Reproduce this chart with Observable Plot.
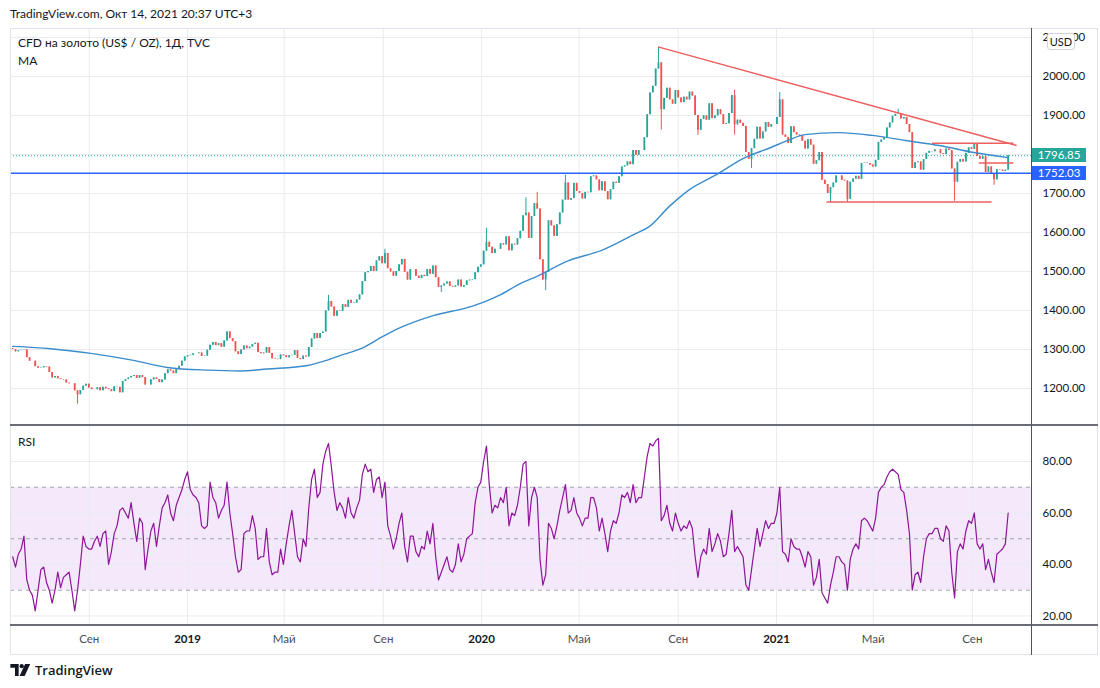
<!DOCTYPE html>
<html><head><meta charset="utf-8">
<script src="https://cdn.jsdelivr.net/npm/d3@7"></script>
<script src="https://cdn.jsdelivr.net/npm/@observablehq/plot@0.6"></script>
<style>
body{margin:0;background:#fff;font-family:Lato,"Open Sans",sans-serif;color:#131722}
#root{position:relative;width:1100px;height:688px;overflow:hidden;background:#fff}
.abs{position:absolute;white-space:nowrap}
.box{position:absolute;color:#fff;font-size:11.5px;line-height:14px;height:14px;text-align:center}
</style></head><body><div id="root"></div>
<script>
// ---------- DATA ----------
const startMonday = "2018-05-28";          // first week shown; two candles per week
const firstOpen = 1302;
const closes = [
  1300,1294, 1297,1298, 1299,1279, 1270,1270, 1256,1252,
  1253,1256, 1255,1241, 1227,1231, 1225,1223, 1222,1214,
  1212,1212, 1194,1184, 1195,1206, 1211,1201,
  1197,1197, 1202,1194, 1203,1199, 1197,1192,
  1204,1203, 1189,1218, 1223,1227, 1231,1233, 1226,1233,
  1228,1209, 1209,1222, 1227,1223, 1215,1222,
  1238,1248, 1245,1238, 1250,1257, 1270,1281, 1284,1285,
  1289,1289, 1291,1282, 1283,1298, 1311,1318,
  1310,1315, 1306,1322, 1345,1328, 1320,1294,
  1287,1299, 1309,1302, 1306,1313, 1316,1292,
  1289,1291, 1305,1290, 1276,1275, 1274,1286, 1284,1279,
  1284,1285, 1297,1277, 1274,1283, 1281,1305,
  1327,1341, 1328,1341, 1345,1399, 1423,1409,
  1385,1399, 1398,1415, 1408,1426, 1418,1419, 1427,1440,
  1474,1497, 1500,1513, 1500,1527, 1538,1520,
  1546,1507, 1499,1488, 1500,1517, 1531,1498, 1478,1505,
  1505,1488, 1482,1490, 1487,1505, 1493,1514,
  1484,1459, 1463,1468, 1473,1462, 1460,1463,
  1478,1460, 1464,1476, 1478,1479, 1497,1511, 1517,1552,
  1575,1562, 1546,1557, 1557,1571, 1568,1589,
  1553,1570, 1568,1584, 1603,1643, 1650,1585,
  1641,1674, 1660,1530, 1478,1498, 1630,1617, 1590,1620,
  1650,1683, 1727,1683, 1687,1726, 1705,1700,
  1686,1703, 1702,1743, 1745,1735, 1707,1730,
  1705,1684, 1710,1729, 1726,1743, 1768,1771, 1781,1774,
  1810,1798, 1810,1810, 1843,1902, 1958,1975,
  2019,2035, 1915,1944, 1970,1940, 1929,1964, 1945,1933,
  1947,1940, 1960,1950, 1900,1862, 1890,1899,
  1888,1930, 1892,1899, 1915,1902, 1877,1879,
  1905,1951, 1876,1888, 1880,1872, 1805,1788, 1815,1839,
  1870,1840, 1858,1882, 1870,1877, 1877,1895,
  1940,1850, 1844,1828, 1871,1856, 1850,1848,
  1834,1814, 1838,1824, 1775,1784, 1805,1734,
  1723,1700, 1715,1727, 1745,1745, 1734,1732, 1685,1729,
  1737,1744, 1736,1777, 1778,1777, 1773,1768,
  1785,1831, 1837,1843, 1868,1881, 1898,1903, 1903,1891,
  1895,1877, 1856,1764, 1779,1781, 1760,1787,
  1803,1808, 1807,1812, 1812,1802, 1800,1814,
  1810,1763, 1729,1780, 1787,1781, 1803,1817, 1813,1827,
  1795,1788, 1794,1754, 1768,1750, 1735,1761,
  1760,1757, 1760,1797
];
const rsiValues = [
  43,39, 44,46, 51,34, 30,28, 22,30,
  38,39, 33,30, 25,30, 37,31, 35,36,
  37,30, 22,30, 40,51, 47,46,
  46,49, 51,47, 52,53, 40,45,
  52,55, 61,62, 60,58, 64,56, 49,58,
  56,38, 46,53, 56,47, 55,62,
  64,67, 60,57, 63,66, 69,73, 76,69,
  67,66, 64,55, 54,55, 72,66,
  64,58, 61,63, 72,60, 52,43,
  37,38, 52,53, 53,59, 54,42,
  43,43, 54,41, 36,37, 37,46, 40,48,
  55,61, 52,43, 41,50, 47,62,
  73,77, 66,68, 79,84, 87,78,
  68,61, 64,62, 58,66, 60,58, 62,65,
  75,79, 76,77, 68,73, 74,66,
  72,55, 51,46, 50,56, 60,47, 41,51,
  51,45, 43,47, 46,53, 48,56,
  43,34, 37,40, 43,38, 37,40,
  48,41, 44,50, 51,52, 64,70, 72,80,
  86,71, 60,63, 62,66, 64,70,
  55,60, 59,63, 70,79, 80,55,
  66,70, 66,42, 32,36, 56,54, 50,55,
  61,66, 71,60, 61,66, 60,58,
  55,58, 58,66, 66,62, 53,58,
  52,45, 53,57, 56,60, 67,66, 68,64,
  71,64, 66,66, 74,82, 87,86,
  88,89, 57,59, 63,56, 53,60, 56,53,
  55,54, 57,54, 43,35, 43,46,
  44,54, 45,48, 52,49, 43,44,
  52,61, 45,47, 45,43, 32,30, 38,46,
  54,47, 52,57, 54,56, 56,60,
  70,45, 44,41, 50,47, 46,46,
  43,39, 45,43, 32,35, 42,29,
  27,25, 32,37, 43,43, 41,40, 30,42,
  46,48, 46,57, 58,57, 55,53,
  58,68, 70,71, 74,76, 77,76, 75,69,
  68,61, 52,30, 36,37, 33,43,
  50,52, 52,54, 54,50, 49,55,
  53,37, 27,45, 48,46, 53,57, 56,60,
  48,46, 48,38, 42,37, 33,44,
  45,46, 48,60
];
// notable wick extremes
const wickDates  = ["2018-08-16","2019-02-20","2019-06-25","2019-09-04","2019-11-12","2020-01-08","2020-02-24","2020-03-09","2020-03-19","2020-04-14","2020-08-06","2020-08-11","2020-09-24","2020-11-09","2020-11-09","2020-11-30","2021-01-06","2021-03-08","2021-03-31","2021-06-01","2021-08-09","2021-09-29"];
const wickPrices = [1160,1346,1439,1557,1446,1611,1689,1703,1451,1747,2075,1863,1849,1965,1850,1764,1959,1676,1677,1916,1680,1721];
// moving average
const maDates  = ["2018-05-29","2018-07-15","2018-09-03","2018-10-26","2018-12-07","2019-01-26","2019-03-07","2019-04-10","2019-05-30","2019-06-19","2019-07-10","2019-08-04","2019-09-01","2019-09-22","2019-11-02","2019-12-15","2020-01-03","2020-01-24","2020-02-18","2020-03-07","2020-04-18","2020-05-29","2020-07-10","2020-07-27","2020-08-21","2020-09-15","2020-10-19","2020-11-21","2020-12-25","2021-01-15","2021-02-05","2021-03-19","2021-04-30","2021-06-10","2021-07-22","2021-09-03","2021-10-15"];
const maValues = [1308,1302,1290,1272,1254,1247,1245,1250,1259,1270,1285,1302,1334,1356,1387,1408,1421,1440,1469,1485,1528,1554,1597,1615,1667,1710,1749,1790,1818,1836,1851,1856,1849,1836,1823,1805,1792];
// drawn trend lines
const trendFromDates  = ["2020-08-07","2021-03-04","2021-07-13","2021-09-09"];
const trendFromPrices = [2076,1678,1829,1778];
const trendToDates    = ["2021-10-26","2021-09-25","2021-10-22","2021-10-22"];
const trendToPrices   = [1823,1678,1829,1778];
const lastPrice = 1796.85;
const levelPrice = 1752.03;
const priceTicks = [1200,1300,1400,1500,1600,1700,1800,1900,2000,2100];
const priceTickLabels = [1200,1300,1400,1500,1600,1700,1900,2000,2100]; // 1800.00 sits under the price labels
const rsiTicks = [20,40,60,80];
const rsiLevels = [30,50,70];
const rsiBand = [30,70];
const timeTicks = ["2018-09-01","2019-01-01","2019-05-01","2019-09-01","2020-01-01","2020-05-01","2020-09-01","2021-01-01","2021-05-01","2021-09-01"];
const timeTickLabels = ["Сен","2019","Май","Сен","2020","Май","Сен","2021","Май","Сен"];
const xDomain = [new Date("2018-05-26T07:00Z"), new Date("2021-11-14T17:00Z")];

// ---------- BUILD ----------
const weeks = d3.utcMonday.range(new Date(startMonday), new Date("2021-10-16"));
const dates = weeks.flatMap(w => [d3.utcHour.offset(w, 24), d3.utcHour.offset(w, 108)]);
if (dates.length !== closes.length || rsiValues.length !== closes.length)
  throw new Error(`length mismatch ${dates.length} ${closes.length} ${rsiValues.length}`);
const candles = closes.map((c, i) => {
  const o = i ? closes[i - 1] : firstOpen;
  return {date: dates[i], open: o, close: c, hi: Math.max(o, c), lo: Math.min(o, c)};
});
wickDates.forEach((ds, j) => {
  const t = new Date(ds);
  const k = d3.leastIndex(dates, d => Math.abs(d - t));
  candles[k].hi = Math.max(candles[k].hi, wickPrices[j]);
  candles[k].lo = Math.min(candles[k].lo, wickPrices[j]);
});
const up = candles.filter(d => d.close >= d.open);
const down = candles.filter(d => d.close < d.open);
const ma = maDates.map((d, i) => ({date: new Date(d), value: maValues[i]}));
const rsi = dates.map((d, i) => ({date: d, value: rsiValues[i]}));
const trends = trendFromDates.map((d, i) => ({x1: new Date(d), y1: trendFromPrices[i], x2: new Date(trendToDates[i]), y2: trendToPrices[i]}));
const tickDates = timeTicks.map(d => new Date(d));
const labelOf = new Map(tickDates.map((d, i) => [+d, timeTickLabels[i]]));
const yearTicks = tickDates.filter(d => d.getUTCMonth() === 0);
const monthTicks = tickDates.filter(d => d.getUTCMonth() !== 0);

const UP = "#26a69a", DOWN = "#ef5350", GRID = "#e9ebf0";
const style = {fontFamily: "Lato, 'Open Sans', sans-serif", fontSize: "11.5px", color: "#131722", background: "transparent", overflow: "visible"};

const pricePlot = Plot.plot({
  width: 1100, height: 397, marginLeft: 10, marginRight: 68, marginTop: 0, marginBottom: 0,
  style,
  x: {type: "utc", domain: xDomain, axis: null},
  y: {domain: [1105.1, 2123.1], axis: null},
  marks: [
    Plot.gridX(tickDates, {stroke: GRID, strokeOpacity: 1}),
    Plot.gridY(priceTicks, {stroke: GRID, strokeOpacity: 1}),
    Plot.axisY(priceTickLabels, {anchor: "right", label: null, tickSize: 0, tickPadding: 10, textAnchor: "start", tickFormat: d3.format(".2f"), fill: "#131722"}),
    Plot.ruleY([lastPrice], {stroke: UP, strokeDasharray: "1,2", strokeWidth: 1}),
    Plot.ruleX(up, {x: "date", y1: "lo", y2: "hi", stroke: UP, strokeWidth: 1}),
    Plot.ruleX(down, {x: "date", y1: "lo", y2: "hi", stroke: DOWN, strokeWidth: 1}),
    Plot.ruleX(up, {x: "date", y1: "open", y2: "close", stroke: UP, strokeWidth: 1.8}),
    Plot.ruleX(down, {x: "date", y1: "open", y2: "close", stroke: DOWN, strokeWidth: 1.8}),
    Plot.ruleY([levelPrice], {stroke: "#2962ff", strokeWidth: 1.5}),
    Plot.line(ma, {x: "date", y: "value", stroke: "#3a8ccc", strokeWidth: 1.4, curve: "monotone-x"}),
    Plot.link(trends, {x1: "x1", y1: "y1", x2: "x2", y2: "y2", stroke: "#ec5f5f", strokeWidth: 1.5})
  ]
});

const rsiPlot = Plot.plot({
  width: 1100, height: 229, marginLeft: 10, marginRight: 68, marginTop: 0, marginBottom: 30,
  style,
  x: {type: "utc", domain: xDomain, axis: null},
  y: {domain: [16.3, 93.6], axis: null},
  marks: [
    Plot.rect([rsiBand], {x1: () => xDomain[0], x2: () => xDomain[1], y1: d => d[0], y2: d => d[1], fill: "#f4e8fb"}),
    Plot.gridX(tickDates, {stroke: GRID, strokeOpacity: 1}),
    Plot.gridY(rsiTicks, {stroke: GRID, strokeOpacity: 1}),
    Plot.ruleY(rsiLevels, {stroke: "#a3a6af", strokeDasharray: "4,4", strokeWidth: 1}),
    Plot.line(rsi, {x: "date", y: "value", stroke: "#8e1599", strokeWidth: 1.2}),
    Plot.axisY(rsiTicks, {anchor: "right", label: null, tickSize: 0, tickPadding: 10, textAnchor: "start", tickFormat: d3.format(".2f"), fill: "#131722"}),
    Plot.axisX(monthTicks, {anchor: "bottom", label: null, tickSize: 0, tickPadding: 9, tickFormat: d => labelOf.get(+d), fill: "#4a4e59"}),
    Plot.axisX(yearTicks, {anchor: "bottom", label: null, tickSize: 0, tickPadding: 9, tickFormat: d => labelOf.get(+d), fill: "#131722", fontWeight: "bold"})
  ]
});

const root = document.getElementById("root");
function place(el, left, top) { el.style.position = "absolute"; el.style.left = left + "px"; el.style.top = top + "px"; root.appendChild(el); return el; }
function div(html, cls, css) { const e = document.createElement("div"); e.className = cls || "abs"; e.innerHTML = html; Object.assign(e.style, css || {}); root.appendChild(e); return e; }

const PRICE_TOP = 28, RSI_TOP = 426;
place(pricePlot, 0, PRICE_TOP);
place(rsiPlot, 0, RSI_TOP);

// frame & separators
div("", "abs", {left: "10px", top: "28px", width: "1088px", height: "627px", border: "1px solid #e0e3eb", boxSizing: "border-box"});
div("", "abs", {left: "10px", top: "424px", width: "1088px", height: "2px", background: "#6a6d78"});
div("", "abs", {left: "10px", top: "624px", width: "1088px", height: "2px", background: "#6a6d78"});
div("", "abs", {left: "1031px", top: "28px", width: "1px", height: "627px", background: "#50535e"});

// texts
div("TradingView.com, Окт 14, 2021 20:37 UTC+3", "abs", {left: "10px", top: "6px", fontSize: "12px", lineHeight: "16px", color: "#131722"});
div("CFD на золото (US$ / OZ), 1Д, TVC", "abs", {left: "18px", top: "35px", fontSize: "12px", lineHeight: "16px", color: "#131722"});
div("MA", "abs", {left: "18px", top: "53px", fontSize: "12px", lineHeight: "16px", color: "#131722"});
div("RSI", "abs", {left: "18px", top: "434px", fontSize: "12px", lineHeight: "16px", color: "#131722"});
div("USD", "abs", {left: "1047px", top: "33px", width: "28px", height: "17px", lineHeight: "16px", fontSize: "11px", textAlign: "center", background: "#fff", border: "1px solid #d1d4dc", borderRadius: "3px", boxSizing: "border-box", color: "#131722"});

// price labels from the y scale
const ys = pricePlot.scale("y");
[[lastPrice, UP], [levelPrice, "#2962ff"]].forEach(([v, c]) => {
  const y = PRICE_TOP + ys.apply(v);
  div(d3.format(".2f")(v), "box", {left: "1032px", top: (y - 7) + "px", width: "54px", background: c});
});

// footer logo
div('<svg width="21" height="12" viewBox="0 0 22 13" style="vertical-align:-1px"><path d="M0 0h9v13H5V4H0z" fill="#131722"/><circle cx="12.3" cy="2.4" r="2.3" fill="#131722"/><path d="M16 0h5.5l-6 13H10z" fill="#131722"/></svg><span style="margin-left:4px">TradingView</span>', "abs",
  {left: "10px", top: "661px", fontSize: "13px", lineHeight: "18px", fontFamily: "'Open Sans', sans-serif", fontWeight: "600", color: "#131722"});
</script>
</body></html>
